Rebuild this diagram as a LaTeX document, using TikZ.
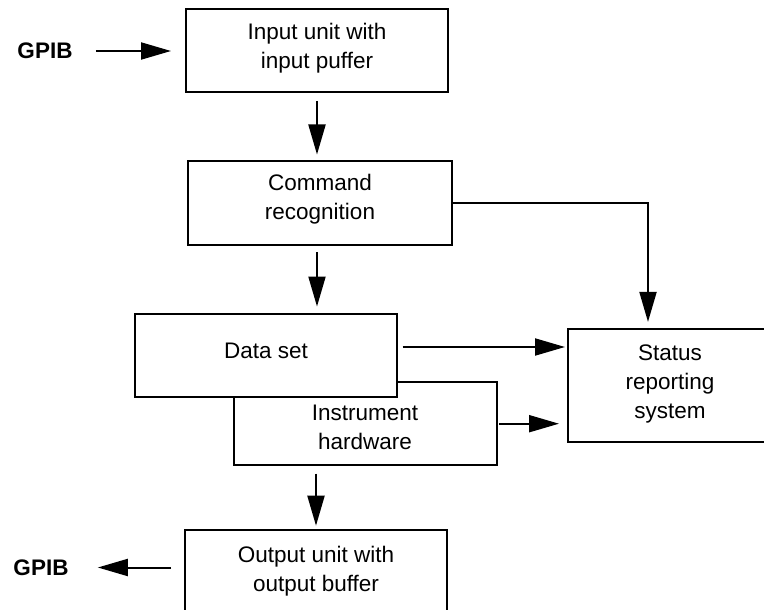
\documentclass[tikz,border=0pt]{standalone}
\usepackage{fontspec}
\setmainfont{Liberation Sans}
\usetikzlibrary{positioning,arrows.meta}

\begin{document}
\begin{tikzpicture}[x=1pt,y=-1pt,line width=2pt,
    blk/.style={draw,fill=white,align=center,text depth=0pt,font=\fontsize{22.5}{29}\selectfont},
    arr/.style={-{Triangle[length=30pt,width=17pt]}}]
        \useasboundingbox (0,0) rectangle (764,610);
        \clip (0,0) rectangle (764,610);

        \node[font=\bfseries\fontsize{22.5}{27}\selectfont] (gpibin) at (45,51) {GPIB};
        \node[blk,minimum width=262pt,minimum height=83pt,text height=35.9pt] (input) at (317,50.5) {Input unit with\\input puffer};
        \node[blk,minimum width=264pt,minimum height=84pt,text height=33.9pt] (cmd) at (320,203) {Command\\recognition};

        \node[blk,minimum width=263pt,minimum height=83pt,text height=51.1pt] (hw) at (365,423.7) {Instrument\\hardware};
        \node[blk,minimum width=262pt,minimum height=83pt,text height=7.1pt] (data) at (266,355) {Data set};
        \node[blk,minimum width=204pt,minimum height=113pt,text height=65.5pt] (status) at (670,385.4) {Status\\reporting\\system};

        \node[blk,minimum width=262pt,minimum height=83pt,text height=40.1pt] (out) at (316,571.5) {Output unit with\\output buffer};
        \node[font=\bfseries\fontsize{22.5}{27}\selectfont] (gpibout) at (41,567.5) {GPIB};

        \draw[arr,shorten <=19pt,shorten >=14pt] (gpibin) -- (input.west |- gpibin);
        \draw[arr,shorten <=8pt,shorten >=5.5pt] (input) -- (input |- cmd.north);
        \draw[arr,shorten <=6pt,shorten >=6pt] ([xshift=-3pt]cmd.south) -- ([xshift=-3pt]cmd.south |- data.north);
        \draw[arr,shorten >=6pt] (cmd.east) -| ([xshift=81pt]status.north west);
        \draw[arr,shorten <=4.7pt,shorten >=2pt] ([yshift=8pt]data.east) -- ([yshift=8pt]data.east -| status.west);
        \draw[arr,shorten <=1.5pt,shorten >=8pt] (hw.east) -- (hw.east -| status.west);
        \draw[arr,shorten <=7.4pt,shorten >=3.3pt] (hw.south -| out.north) -- (out.north);
        \draw[arr,shorten <=13pt,shorten >=25pt] (out.west |- gpibout) -- (gpibout);
\end{tikzpicture}
\end{document}
